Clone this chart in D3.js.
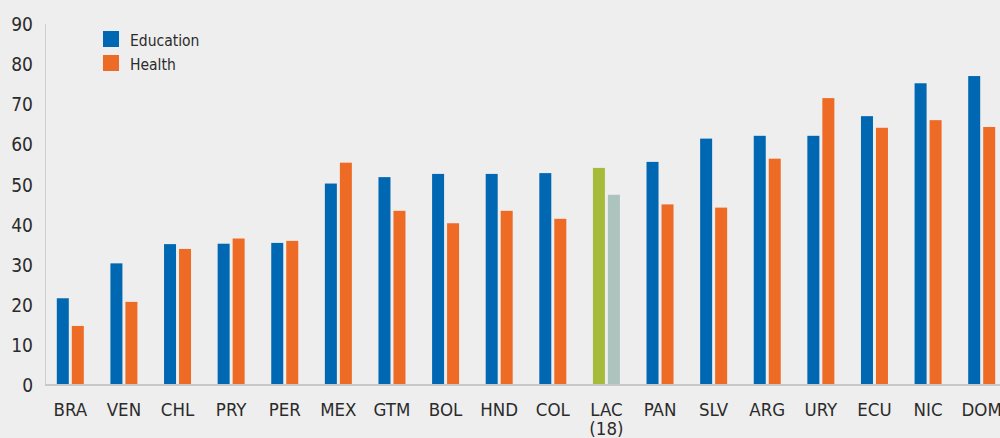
<!DOCTYPE html>
<html>
<head>
<meta charset="utf-8">
<script src="https://cdn.jsdelivr.net/npm/d3@7"></script>
<style>
  html, body { margin: 0; padding: 0; background: #eeeeee; }
  svg { display: block; }
  text { font-family: "Liberation Sans Narrow", "DejaVu Sans Condensed", "Liberation Sans", sans-serif; fill: #2b2b2b; }
</style>
</head>
<body>
<svg id="chart" width="1000" height="438"></svg>
<script>
const categories = ["BRA","VEN","CHL","PRY","PER","MEX","GTM","BOL","HND","COL","LAC\n(18)","PAN","SLV","ARG","URY","ECU","NIC","DOM"];
const education = [21.5,30.2,35.0,35.1,35.3,50.1,51.7,52.5,52.5,52.7,54.0,55.5,61.3,62.0,62.0,66.9,75.1,76.9];
const health    = [14.6,20.6,33.8,36.4,35.8,55.3,43.3,40.2,43.3,41.3,47.3,44.9,44.1,56.3,71.4,64.0,65.9,64.2];
const yTicks = [0,10,20,30,40,50,60,70,80,90];
const seriesNames = ["Education","Health"];

const colors = { edu: "#0068b3", hea: "#ee6b26", eduLac: "#a7bb3a", heaLac: "#adc3be" };

const svg = d3.select("#chart");
const x0 = 43.5, x1 = 1008.5, yBase = 384.5, yTop = 23.5;

const x = d3.scaleBand().domain(categories).range([x0, x1]);
const y = d3.scaleLinear().domain([0, 90]).range([yBase, yTop]);

const barW = 12, gap = 3;

// y axis line
svg.append("line").attr("x1", 45.5).attr("x2", 45.5).attr("y1", 24).attr("y2", yBase)
  .attr("stroke", "#cfcfcf").attr("stroke-width", 1);

// y tick labels
svg.append("g").selectAll("text").data(yTicks).join("text")
  .attr("x", 33).attr("y", d => y(d) + 1).attr("dy", "0.35em")
  .attr("text-anchor", "end").attr("font-size", 19).text(d => d);

// bars
const g = svg.append("g");
categories.forEach((c, i) => {
  const cx = x(c) + x.bandwidth() / 2;
  const isLac = c.startsWith("LAC");
  g.append("rect")
    .attr("x", cx - gap / 2 - barW).attr("width", barW)
    .attr("y", y(education[i])).attr("height", yBase - y(education[i]))
    .attr("fill", isLac ? colors.eduLac : colors.edu);
  g.append("rect")
    .attr("x", cx + gap / 2).attr("width", barW)
    .attr("y", y(health[i])).attr("height", yBase - y(health[i]))
    .attr("fill", isLac ? colors.heaLac : colors.hea);
});

// baseline
svg.append("line").attr("x1", 45).attr("x2", 1000).attr("y1", yBase + 0.5).attr("y2", yBase + 0.5)
  .attr("stroke", "#c8c8c8").attr("stroke-width", 2);

// x labels
const xl = svg.append("g");
categories.forEach(c => {
  const cx = x(c) + x.bandwidth() / 2;
  const lines = c.split("\n");
  const t = xl.append("text").attr("x", cx).attr("y", 416).attr("text-anchor", "middle").attr("font-size", 18.5);
  lines.forEach((l, k) => {
    t.append("tspan").attr("x", cx).attr("dy", k === 0 ? 0 : 19).text(l);
  });
});

// legend
const legend = svg.append("g");
const legColors = [colors.edu, colors.hea];
seriesNames.forEach((n, k) => {
  legend.append("rect").attr("x", 103).attr("y", 31 + k * 24).attr("width", 16).attr("height", 16).attr("fill", legColors[k]);
  legend.append("text").attr("x", 130).attr("y", 40.5 + k * 24).attr("dy", "0.35em").attr("font-size", 15.5).text(n);
});
</script>
</body>
</html>
